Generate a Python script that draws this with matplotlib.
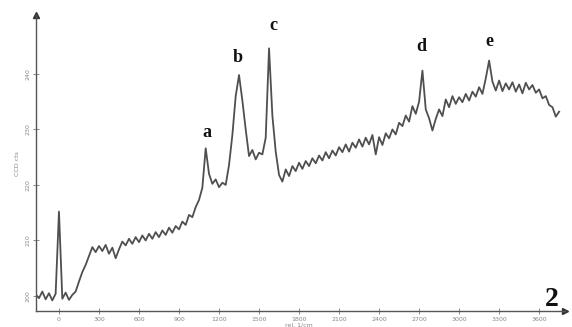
import numpy as np
import matplotlib
matplotlib.use("Agg")
import matplotlib.pyplot as plt

# Raman shift grid (rel. 1/cm) and CCD counts
shift = np.arange(-175, 3751, 25)
counts = [
    200.3, 199.6, 200.8, 199.4, 200.5, 199.2, 200.4, 215.2,
    199.5, 200.6, 199.3, 200.2, 200.8, 202.6, 204.3, 205.6,
    207.2, 208.8, 207.9, 209.0, 208.1, 209.2, 207.6, 208.7,
    206.8, 208.4, 209.8, 209.1, 210.3, 209.4, 210.6, 209.7,
    210.9, 210.0, 211.2, 210.3, 211.5, 210.6, 211.8, 211.0,
    212.3, 211.4, 212.6, 212.0, 213.4, 212.8, 214.6, 214.2,
    216.0, 217.3, 219.5, 226.6, 222.0, 220.2, 221.0, 219.6,
    220.4, 220.0, 223.6, 229.0, 236.0, 239.8, 235.2, 230.0,
    225.2, 226.3, 224.6, 225.8, 225.5, 228.5, 244.6, 232.5,
    226.0, 221.8, 220.6, 222.8, 221.6, 223.4, 222.5, 224.0,
    222.9, 224.3, 223.4, 224.8, 223.9, 225.3, 224.4, 225.9,
    224.8, 226.2, 225.3, 226.8, 225.9, 227.3, 226.0, 227.6,
    226.7, 228.2, 226.9, 228.5, 227.3, 229.0, 225.5, 228.6,
    227.2, 229.3, 228.4, 230.0, 229.1, 231.2, 230.6, 232.5,
    231.4, 234.2, 232.8, 235.0, 240.6, 233.6, 232.0, 229.8,
    231.9, 233.6, 232.4, 235.4, 234.0, 236.0, 234.6, 235.8,
    234.9, 236.4, 235.2, 236.8, 235.9, 237.6, 236.4, 239.2,
    242.4, 238.6, 237.0, 238.8, 236.9, 238.3, 237.2, 238.5,
    236.8, 238.1, 236.5, 238.4, 237.2, 238.0, 236.6, 237.2,
    235.6, 236.0, 234.4, 234.0, 232.3, 233.2,
]

x_ticks = [0, 300, 600, 900, 1200, 1500, 1800, 2100, 2400, 2700, 3000, 3300, 3600]
y_ticks = [200, 210, 220, 230, 240]

peak_labels = ["a", "b", "c", "d", "e"]
peak_x = [1110, 1342, 1605, 2715, 3225]
peak_y = [229.5, 243.0, 248.8, 244.9, 245.8]

fig = plt.figure(figsize=(5.72, 3.27), dpi=100)
ax = fig.add_axes([0.063, 0.049, 0.925, 0.905])

ax.plot(shift, counts, color="#4f4f4f", lw=1.3)

ax.set_xlim(-172, 3795)
ax.set_ylim(197.3, 250.6)

for side in ("top", "right"):
    ax.spines[side].set_visible(False)
for side in ("left", "bottom"):
    ax.spines[side].set_color("#555555")
    ax.spines[side].set_linewidth(1.0)

ax.plot(1, 0, ">", color="#333333", ms=4, transform=ax.transAxes, clip_on=False)
ax.plot(0, 1, "^", color="#333333", ms=4, transform=ax.transAxes, clip_on=False)

ax.set_xticks(x_ticks)
ax.set_xticklabels([str(t) for t in x_ticks])
ax.set_yticks(y_ticks)
ax.set_yticklabels([str(t) for t in y_ticks], rotation=90, va="center")
ax.tick_params(direction="inout", length=4, width=0.6, colors="#777777",
               labelsize=4.5, labelcolor="#888888", pad=2)

ax.text(1800, 195.2, "rel. 1/cm", fontsize=4.5, color="#888888", ha="center", va="top")
fig.text(0.03, 0.5, "CCD cts", fontsize=4.5, color="#888888", rotation=90,
         ha="center", va="center")

for lab, px, py in zip(peak_labels, peak_x, peak_y):
    ax.text(px, py, lab, fontsize=13, fontweight="bold", family="Liberation Serif",
            ha="center", va="center", color="#111111")

fig.text(0.965, 0.085, "2", fontsize=20, fontweight="bold", family="Liberation Serif",
         ha="center", va="center", color="#111111")

fig.savefig("out.png", dpi=100)
